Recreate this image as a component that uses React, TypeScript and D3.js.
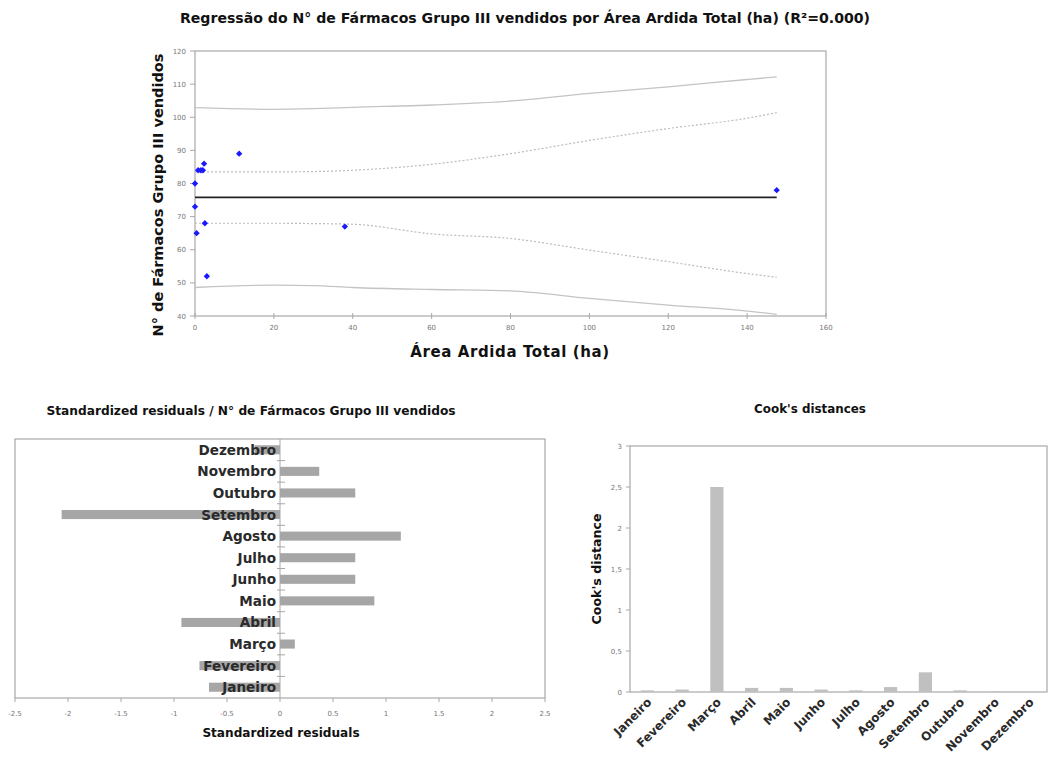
import React from "react";
import * as d3 from "d3";

const months = ["Janeiro","Fevereiro","Março","Abril","Maio","Junho","Julho","Agosto","Setembro","Outubro","Novembro","Dezembro"];
const areaArdida = [2.5, 38, 147.5, 0.4, 2.3, 0.8, 1.5, 11.2, 3, 2, 0, 0];
const farmacos = [68, 67, 78, 65, 86, 84, 84, 89, 52, 84, 80, 73];

const regX = [0, 147.5];
const regY = [75.8, 75.8];
const bandX = [0, 20, 30, 40, 60, 80, 100, 120, 140, 147.5];
const upperMean = [83.5, 83.5, 83.6, 84, 85.8, 89, 93, 96.6, 99.7, 101.4];
const lowerMean = [68, 68, 67.9, 67.7, 64.8, 63.4, 59.9, 56.4, 52.8, 51.7];
const upperObs = [102.9, 102.4, 102.6, 103, 103.7, 104.9, 107.2, 109.2, 111.4, 112.2];
const lowerObs = [48.6, 49.3, 49.2, 48.6, 48.0, 47.6, 45.3, 43.3, 41.5, 40.5];

const stdResiduals = [-0.67, -0.76, 0.14, -0.93, 0.89, 0.71, 0.71, 1.14, -2.06, 0.71, 0.37, -0.24];
const cooks = [0.02, 0.03, 2.5, 0.05, 0.05, 0.03, 0.02, 0.06, 0.24, 0.02, 0.005, 0.002];

const topXTicks = [0, 20, 40, 60, 80, 100, 120, 140, 160];
const topYTicks = [40, 50, 60, 70, 80, 90, 100, 110, 120];
const resTicks = [-2.5, -2, -1.5, -1, -0.5, 0, 0.5, 1, 1.5, 2, 2.5];
const cookTicks = [0, 0.5, 1, 1.5, 2, 2.5, 3];

const FONT = "'DejaVu Sans', Verdana, sans-serif";
const FRAME = "#a8a8a8";
const TICKC = "#777";

export default function App() {
  const tx = d3.scaleLinear().domain([0, 160]).range([195, 826]);
  const ty = d3.scaleLinear().domain([40, 120]).range([316, 51]);
  const lineOf = (ys: number[]) =>
    d3.line<number>().x((_, i) => tx(bandX[i])).y((v) => ty(v)).curve(d3.curveMonotoneX)(ys) || "";
  const regLine = d3.line<number>().x((_, i) => tx(regX[i])).y((v) => ty(v))(regY) || "";
  const sym = d3.symbol().type(d3.symbolSquare).size(20)() || "";

  const rx = d3.scaleLinear().domain([-2.5, 2.5]).range([15, 545]);
  const ry = d3.scaleBand<string>().domain([...months].reverse()).range([439, 698]).paddingInner(0.58).paddingOuter(0.29);
  const rowStep = ry.step();

  const cx = d3.scaleBand<string>().domain(months).range([630, 1047]).paddingInner(0.62).paddingOuter(0.31);
  const cy = d3.scaleLinear().domain([0, 3]).range([692, 446]);
  const fmtComma = (v: number) => String(v).replace(".", ",");

  return (
    <svg width={1049} height={758} style={{ position: "absolute", left: 0, top: 0, background: "#fff" }} fontFamily={FONT}>
      {/* ===== Top chart ===== */}
      <text x={525} y={23} textAnchor="middle" fontSize={14.1} fontWeight="bold" fill="#111">
        Regressão do N° de Fármacos Grupo III vendidos por Área Ardida Total (ha) (R²=0.000)
      </text>
      <rect x={195} y={51} width={631} height={265} fill="none" stroke={FRAME} strokeWidth={1.2} />
      {topYTicks.map((t) => (
        <g key={"ty" + t}>
          <line x1={190} x2={195} y1={ty(t)} y2={ty(t)} stroke={FRAME} />
          <text x={186} y={ty(t) + 2.5} textAnchor="end" fontSize={7} fill={TICKC}>{t}</text>
        </g>
      ))}
      {topXTicks.map((t) => (
        <g key={"tx" + t}>
          <line x1={tx(t)} x2={tx(t)} y1={313} y2={319} stroke={FRAME} />
          <text x={tx(t)} y={330} textAnchor="middle" fontSize={7} fill={TICKC}>{t}</text>
        </g>
      ))}
      <path d={lineOf(upperObs)} fill="none" stroke="#c4c4c4" strokeWidth={1.3} />
      <path d={lineOf(lowerObs)} fill="none" stroke="#c4c4c4" strokeWidth={1.3} />
      <path d={lineOf(upperMean)} fill="none" stroke="#bcbcbc" strokeWidth={1.2} strokeDasharray="2,2" />
      <path d={lineOf(lowerMean)} fill="none" stroke="#bcbcbc" strokeWidth={1.2} strokeDasharray="2,2" />
      <path d={regLine} fill="none" stroke="#222" strokeWidth={1.6} />
      {farmacos.map((v, i) => (
        <path key={"p" + i} d={sym} transform={`translate(${tx(areaArdida[i])},${ty(v)}) rotate(45)`} fill="#1a1aff" />
      ))}
      <text transform={`translate(163,195) rotate(-90)`} textAnchor="middle" fontSize={14.5} fontWeight="bold" fill="#111">
        N° de Fármacos Grupo III vendidos
      </text>
      <text x={510} y={357} textAnchor="middle" fontSize={15} letterSpacing={0.6} fontWeight="bold" fill="#111">
        Área Ardida Total (ha)
      </text>

      {/* ===== Bottom-left residuals ===== */}
      <text x={251} y={415} textAnchor="middle" fontSize={12.2} fontWeight="bold" fill="#111">
        Standardized residuals / N° de Fármacos Grupo III vendidos
      </text>
      <rect x={15} y={439} width={530} height={259} fill="none" stroke={FRAME} strokeWidth={1.2} />
      <line x1={rx(0)} x2={rx(0)} y1={439} y2={698} stroke={FRAME} />
      {months.map((m, i) => {
        const yb = (ry(m) || 0) - (rowStep - ry.bandwidth()) / 2;
        return i < months.length - 1 ? (
          <line key={"rt" + m} x1={rx(0) - 3} x2={rx(0) + 5} y1={yb} y2={yb} stroke={FRAME} />
        ) : null;
      })}
      {stdResiduals.map((v, i) => (
        <rect key={"rb" + i} x={rx(Math.min(0, v))} y={ry(months[i])} width={Math.abs(rx(v) - rx(0))} height={ry.bandwidth()} fill="#a6a6a6" />
      ))}
      {months.map((m) => (
        <text key={"rl" + m} x={276} y={(ry(m) || 0) + ry.bandwidth() / 2 + 5} textAnchor="end" fontSize={13.6} fontWeight="bold" fill="#2a2a2a">
          {m}
        </text>
      ))}
      {resTicks.map((t) => (
        <g key={"rx" + t}>
          <line x1={rx(t)} x2={rx(t)} y1={698} y2={702} stroke={FRAME} />
          <text x={rx(t)} y={716} textAnchor="middle" fontSize={7} fill={TICKC}>{t}</text>
        </g>
      ))}
      <text x={281} y={737} textAnchor="middle" fontSize={12.1} fontWeight="bold" fill="#111">
        Standardized residuals
      </text>

      {/* ===== Bottom-right Cook's ===== */}
      <text x={810} y={413} textAnchor="middle" fontSize={11.9} fontWeight="bold" fill="#111">
        Cook's distances
      </text>
      <rect x={630} y={446} width={417} height={246} fill="none" stroke={FRAME} strokeWidth={1.2} />
      {cookTicks.map((t) => (
        <g key={"cy" + t}>
          <line x1={626} x2={630} y1={cy(t)} y2={cy(t)} stroke={FRAME} />
          <text x={622} y={cy(t) + 2.5} textAnchor="end" fontSize={7} fill={TICKC}>{fmtComma(t)}</text>
        </g>
      ))}
      {cooks.map((v, i) => (
        <rect key={"cb" + i} x={cx(months[i])} y={cy(v)} width={cx.bandwidth()} height={cy(0) - cy(v)} fill="#c0c0c0" />
      ))}
      {months.map((m) => {
        const c = (cx(m) || 0) + cx.bandwidth() / 2 + 5;
        return (
          <text key={"cl" + m} transform={`translate(${c},${703}) rotate(-45)`} textAnchor="end" fontSize={12} fontWeight="bold" fill="#2a2a2a">
            {m}
          </text>
        );
      })}
      <text transform={`translate(601,569) rotate(-90)`} textAnchor="middle" fontSize={12.6} fontWeight="bold" fill="#111">
        Cook's distance
      </text>
    </svg>
  );
}
